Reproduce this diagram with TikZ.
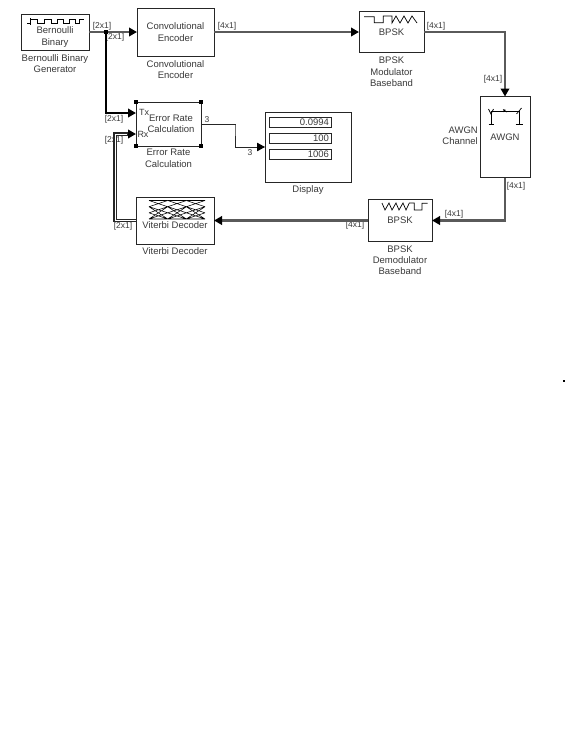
\documentclass[tikz,border=0pt]{standalone}
\usepackage{fontspec}
\setmainfont{Liberation Sans}
\usetikzlibrary{arrows.meta,positioning,calc}
\definecolor{SLtext}{HTML}{3A3A3A}
\definecolor{SLbus}{HTML}{5A5A5A}
\tikzset{
  sl/block/.style={draw=black!85, line width=0.9pt, outer sep=0pt, inner sep=0pt, align=center, font=\fontsize{9.5}{11.3}\selectfont, text=SLtext},
  sl/name/.style={inner sep=0pt, align=center, font=\fontsize{9.5}{11.3}\selectfont, text=SLtext},
  sl/dim/.style={inner sep=0pt, font=\fontsize{8.5}{10}\selectfont, text=SLtext},
  sl/port/.style={inner sep=0pt, font=\fontsize{9}{10}\selectfont, text=SLtext},
  sl/field/.style={draw=black!85, line width=0.8pt, outer sep=0pt, inner sep=2pt, text width=58pt, minimum height=10.5pt, align=right, font=\fontsize{9.5}{10}\selectfont, text=SLtext},
  sl/handle/.style={fill=black, inner sep=0pt, minimum size=3.5pt},
  sl/junction/.style={fill=black, inner sep=0pt, minimum size=4.5pt},
  sl/icon/.style={line width=0.7pt, black},
  sl/arrtip/.style={-{Triangle[length=8pt,width=8.5pt,color=black]}},
  sl/bus/.style={sl/arrtip, line width=2.4pt, SLbus},
  sl/branch/.style={sl/arrtip, line width=2pt, black},
  sl/busouter/.style={sl/arrtip, line width=3.2pt, black!85},
  sl/businner/.style={line width=0.8pt, white},
  sl/wire/.style={sl/arrtip, line width=0.9pt, black!85}
}

\begin{document}
\begin{tikzpicture}[x=1pt, y=-1pt, node distance=2pt]
  \useasboundingbox[fill=white] (0,0) rectangle (565,742);

  % blocks
  \node[sl/block, minimum width=68pt, minimum height=36pt] (bernoulli) at (55,32) {};
  \node[sl/block, right=48pt of bernoulli, minimum width=77pt, minimum height=48pt] (convenc) {Convolutional\\Encoder};
  \node[sl/block, right=145pt of convenc, minimum width=65pt, minimum height=41pt] (bpskmod) {BPSK};
  \node[sl/block, minimum width=50pt, minimum height=81pt] (awgn) at (505,137) {AWGN};
  \node[sl/block, minimum width=65pt, minimum height=44pt] (errrate) at (168.5,124) {};
  \node[sl/block, minimum width=86pt, minimum height=70pt] (display) at (308,147) {};
  \node[sl/block, minimum width=78pt, minimum height=47pt] (viterbi) at (175,220.5) {};
  \node[sl/block, right=154pt of viterbi, minimum width=64pt, minimum height=42pt] (bpskdemod) {BPSK};

  % text inside blocks
  \node[sl/name] (bernoulliText) at ($(bernoulli)+(0,5)$) {Bernoulli\\Binary};
  \node[sl/name] (viterbiText) at ($(viterbi)+(0,4.5)$) {Viterbi Decoder};
  \node[sl/name] (errrateText) at ($(errrate)+(2.5,0)$) {Error Rate\\Calculation};
  \node[sl/port] (txText) at (144,112) {Tx};
  \node[sl/port] (rxText) at (143,134) {Rx};

  % display fields
  \node[sl/field] (fieldA) at (300,122.5) {0.0994};
  \node[sl/field] (fieldB) at (300,138.5) {100};
  \node[sl/field] (fieldC) at (300,154.5) {1006};

  % captions
  \node[sl/name, below=4pt of bernoulli] (bernoulliCap) {Bernoulli Binary\\Generator};
  \node[sl/name, below=4pt of convenc] (convencCap) {Convolutional\\Encoder};
  \node[sl/name, below=4.5pt of bpskmod] (bpskmodCap) {BPSK\\Modulator\\Baseband};
  \node[sl/name, left=2pt of awgn, yshift=1pt, align=right] (awgnCap) {AWGN\\Channel};
  \node[sl/name, below=3pt of errrate] (errrateCap) {Error Rate\\Calculation};
  \node[sl/name, below=3pt of display] (displayCap) {Display};
  \node[sl/name, below=3pt of viterbi] (viterbiCap) {Viterbi Decoder};
  \node[sl/name, below=4pt of bpskdemod] (bpskdemodCap) {BPSK\\Demodulator\\Baseband};

  % block icons
  \draw[sl/icon] (27,23.5) -- (30,23.5) (30,18) -- (30,25);
  \draw[sl/icon] (30,19) -- (37,19) -- (37,23.5) -- (44,23.5) -- (44,19) -- (51,19) -- (51,23.5) -- (57,23.5) -- (57,19) -- (63,19) -- (63,23.5) -- (69,23.5) -- (69,19) -- (75,19) -- (75,23.5) -- (79,23.5) -- (79,19) -- (84,19);
  \draw[sl/icon] (364,16.7) -- (374.3,16.7) -- (374.3,22.7) -- (383.3,22.7) -- (383.3,16) -- (392,16) -- (392,23) -- (396,16) -- (400,23) -- (404,16) -- (408,23) -- (412,16) -- (417,23);
  \draw[sl/icon] (382,203) -- (385,210) -- (389,203) -- (392,210) -- (396,203) -- (399,210) -- (403,203) -- (406,210) -- (409.3,203) -- (414.3,203) -- (414.3,210) -- (422,210) -- (422,203.3) -- (427.7,203.3);
  \draw[sl/icon] (488.5,124) -- (494,124) (491,124) -- (491,111) -- (519,111) -- (519,124) (515.5,124) -- (523,124);
  \draw[sl/icon] (488.5,109) -- (491,114) -- (493.5,109) (516.5,114) -- (519,111) -- (521.5,108);
  \draw[sl/icon] (503,109.5) -- (507,112) (505,109.5) -- (503,112);
  \foreach \col in {149,167.7,186.3}{
    \draw[sl/icon, line width=0.55pt] (\col,200.5) -- ++(18.7,0) (\col,219) -- ++(18.7,0)
      (\col,200.5) -- ++(18.7,6.2) (\col,206.7) -- ++(18.7,-6.2)
      (\col,206.7) -- ++(18.7,12.3) (\col,219) -- ++(18.7,-12.3)
      (\col,212.8) -- ++(18.7,-6.1) (\col,206.7) -- ++(18.7,6.1)
      (\col,212.8) -- ++(18.7,6.2) (\col,219) -- ++(18.7,-6.2);
  }

  % selection handles
  \foreach \corner in {north west,north east,south west,south east}{
    \node[sl/handle] at (errrate.\corner) {};
  }

  % signal dimensions
  \node[sl/dim] (dimA) at (102,26) {[2x1]};
  \node[sl/dim] (dimB) at (115,37) {[2x1]};
  \node[sl/dim] (dimC) at (227,26) {[4x1]};
  \node[sl/dim] (dimD) at (436,26) {[4x1]};
  \node[sl/dim] (dimE) at (493,79) {[4x1]};
  \node[sl/dim] (dimF) at (516,186) {[4x1]};
  \node[sl/dim] (dimG) at (454,214) {[4x1]};
  \node[sl/dim] (dimH) at (355,225) {[4x1]};
  \node[sl/dim] (dimI) at (123,226) {[2x1]};
  \node[sl/dim] (dimJ) at (114,119) {[2x1]};
  \node[sl/dim] (dimK) at (114,140) {[2x1]};
  \node[sl/dim] (dimL) at (207,120) {3};
  \node[sl/dim] (dimM) at (250,153) {3};

  % ports and bends
  \coordinate (txport) at (136,113);
  \coordinate (rxport) at (136,134);
  \coordinate (rxbend) at (115,220.5);
  \coordinate (wirebend) at (235,125);
  \coordinate (junc) at (106,32);
  \node[fill=black, inner sep=0pt, minimum width=2pt, minimum height=1.5pt] (speck) at (564,381) {};

  % connectors
  \draw[sl/bus] (bernoulli.east) -- (convenc.west);
  \draw[sl/bus] (convenc.east) -- (bpskmod.west);
  \draw[sl/bus] (bpskmod.east) -| (awgn.north);
  \draw[sl/bus] (awgn.south) |- (bpskdemod.east);
  \draw[sl/bus] (bpskdemod.west) -- (viterbi.east);
  \draw[sl/branch] (junc) |- (txport);
  \draw[sl/busouter] (viterbi.west) -- (rxbend) |- (rxport);
  \draw[sl/businner] (viterbi.west) -- (rxbend) |- ($(rxport)+(-9,0)$);
  \draw[sl/wire] (errrate.east) -| (wirebend) |- (display.west);
  \node[sl/junction] (juncDot) at (junc) {};
\end{tikzpicture}
\end{document}
